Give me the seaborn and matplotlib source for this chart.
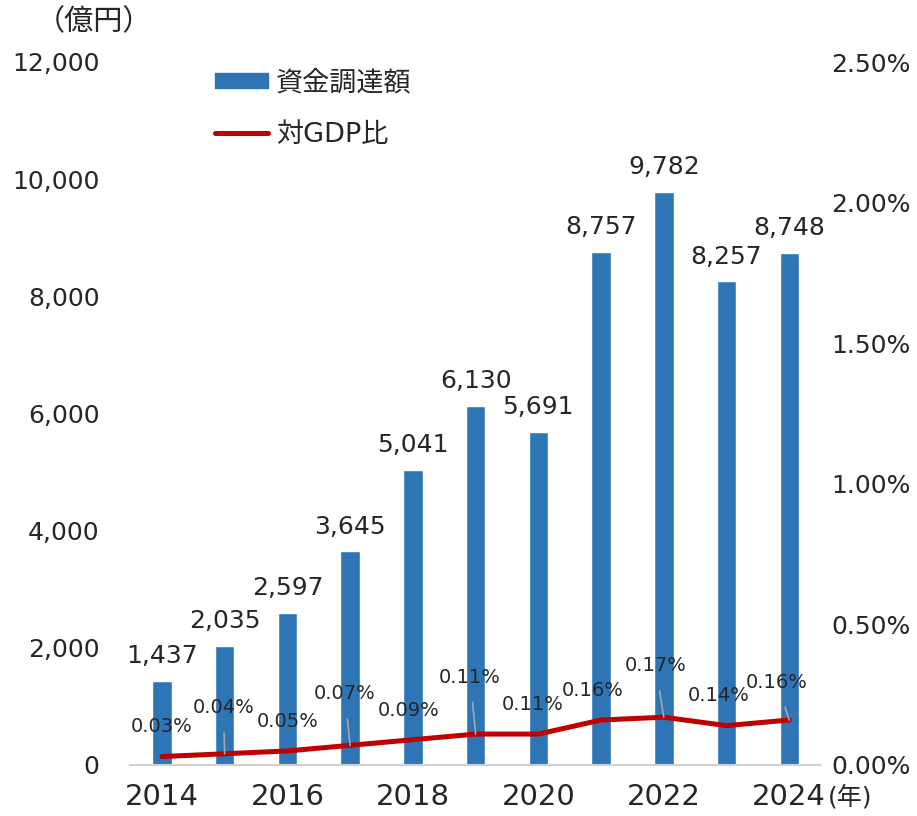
#!/usr/bin/env python3

import numpy as np
import matplotlib.pyplot as plt
import matplotlib.ticker as mticker
from matplotlib.patches import Patch
from matplotlib.lines import Line2D
import seaborn as sns

# Data
years = [2014, 2015, 2016, 2017, 2018, 2019, 2020, 2021, 2022, 2023, 2024]
funding = [1437, 2035, 2597, 3645, 5041, 6130, 5691, 8757, 9782, 8257, 8748]   # 億円
gdp_ratio = [0.03, 0.04, 0.05, 0.07, 0.09, 0.11, 0.11, 0.16, 0.17, 0.14, 0.16]  # %

# label placement (points) for the ratio labels, and which get a leader line
ratio_offsets = [(0, 22), (-1, 33), (0, 21), (-4, 37), (-3, 21), (-4, 41),
                 (-4, 21), (-6, 21), (-6, 37), (-6, 22), (-9, 27)]
ratio_leader = [False, True, False, True, False, True, False, False, True, False, True]

BAR_COLOR = "#2E75B6"
LINE_COLOR = "#C00000"

sns.set_style("white")
plt.rcParams["font.family"] = ["DejaVu Sans", "Noto Sans CJK JP"]

fig = plt.figure(figsize=(9.17, 8.16), dpi=100)
ax = fig.add_axes([130 / 917, 1 - 765 / 816, 690 / 917, 703 / 816])

sns.barplot(x=years, y=funding, color=BAR_COLOR, width=0.31, saturation=1, ax=ax)
ax.bar_label(ax.containers[0], labels=[f"{v:,}" for v in funding],
             padding=9, fontsize=18)

ax.set_ylim(0, 12000)
ax.set_xlim(-0.51, 10.49)
ax.yaxis.set_major_locator(mticker.MultipleLocator(2000))
ax.yaxis.set_major_formatter(mticker.FuncFormatter(lambda v, p: f"{v:,.0f}"))
ax.set_xticks(range(0, len(years), 2))
ax.set_xticklabels([str(y) for y in years[::2]])
ax.tick_params(axis="y", length=0, labelsize=18, pad=22)
ax.tick_params(axis="x", length=0, labelsize=21, pad=13)
for side in ["top", "left", "right"]:
    ax.spines[side].set_visible(False)
ax.spines["bottom"].set_color("#d0d0d0")
ax.spines["bottom"].set_linewidth(1.5)
ax.set_xlabel("")
ax.set_ylabel("")

# GDP ratio on the right axis
ax2 = ax.twinx()
xs = np.arange(len(years))
sns.lineplot(x=xs, y=gdp_ratio, color=LINE_COLOR, linewidth=3.6, ax=ax2, legend=False)
ax2.set_ylim(0, 2.5)
ax2.yaxis.set_major_locator(mticker.MultipleLocator(0.5))
ax2.yaxis.set_major_formatter(mticker.FuncFormatter(lambda v, p: f"{v:.2f}%"))
ax2.tick_params(axis="y", length=0, labelsize=18, pad=8)
for side in ["top", "left", "right", "bottom"]:
    ax2.spines[side].set_visible(False)
ax2.set_ylabel("")
ax2.set_xlim(ax.get_xlim())

for x, v, off, lead in zip(xs, gdp_ratio, ratio_offsets, ratio_leader):
    arrow = dict(arrowstyle="-", color="#a6a6a6", lw=1.2, shrinkA=9, shrinkB=0) if lead else None
    ax2.annotate(f"{v:.2f}%", xy=(x, v), xytext=off, textcoords="offset points",
                 ha="center", va="center", fontsize=14, arrowprops=arrow)

# legend
handles = [Patch(color=BAR_COLOR), Line2D([], [], color=LINE_COLOR, linewidth=3.6)]
fig.legend(handles, ["資金調達額", "対GDP比"], loc="upper left",
           bbox_to_anchor=(215 / 917, 1 - 70 / 816), frameon=False, fontsize=19.5,
           handlelength=1.95, handleheight=0.5, handletextpad=0.3,
           labelspacing=0.95, borderpad=0, borderaxespad=0)

fig.text(36 / 917, 1 - 22 / 816, "（億円）", fontsize=21, va="center", ha="left",
         family=["Noto Sans CJK JP"])
fig.text(828 / 917, 1 - 797 / 816, "(年)", fontsize=18, va="center", ha="left")

fig.savefig("out.png", dpi=100)
